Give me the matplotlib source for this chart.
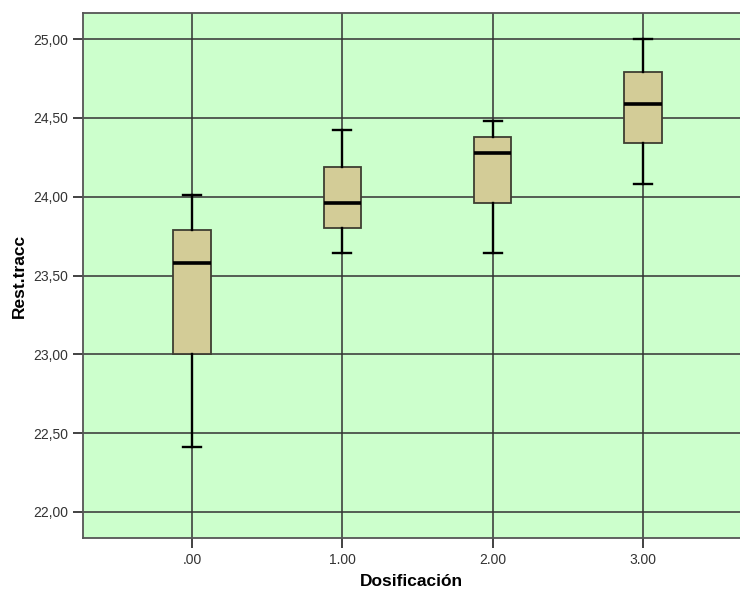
import matplotlib
matplotlib.use("Agg")
import matplotlib.pyplot as plt
from matplotlib.ticker import FuncFormatter

plt.rcParams["font.family"] = ["Liberation Sans", "DejaVu Sans"]

# Datos (boxplot SPSS)
dosis = [0.0, 1.0, 2.0, 3.0]
etiquetas_x = [".00", "1.00", "2.00", "3.00"]
bigote_inf = [22.41, 23.64, 23.64, 24.08]
q1 = [23.00, 23.80, 23.96, 24.34]
mediana = [23.58, 23.96, 24.28, 24.59]
q3 = [23.79, 24.19, 24.38, 24.79]
bigote_sup = [24.01, 24.42, 24.48, 25.00]
yticks = [22.0, 22.5, 23.0, 23.5, 24.0, 24.5, 25.0]

stats = []
for i in range(len(dosis)):
    stats.append({"whislo": bigote_inf[i], "q1": q1[i], "med": mediana[i],
                  "q3": q3[i], "whishi": bigote_sup[i], "fliers": []})

fig = plt.figure(figsize=(7.4, 5.9), dpi=100)
ax = fig.add_axes([83 / 740, 1 - 538 / 590, 657 / 740, 525 / 590])
ax.set_facecolor("#CCFFCC")

posiciones = list(range(len(dosis)))
ax.bxp(stats, positions=posiciones, widths=0.25, patch_artist=True,
       showfliers=False,
       boxprops=dict(facecolor="#D3CC97", edgecolor="#3e3e32", linewidth=1.3),
       medianprops=dict(color="black", linewidth=2.6),
       whiskerprops=dict(color="black", linewidth=1.7),
       capprops=dict(color="black", linewidth=1.7),
       capwidths=0.12, zorder=3)

ax.set_xlim(-0.725, 3.645)
ax.set_ylim(21.835, 25.165)
ax.set_xticks(posiciones)
ax.set_xticklabels(etiquetas_x)
ax.set_yticks(yticks)
ax.yaxis.set_major_formatter(FuncFormatter(lambda v, p: f"{v:.2f}".replace(".", ",")))

ax.grid(True, color="#333333", linewidth=1.3, alpha=0.85, zorder=1)
ax.set_axisbelow(True)
for s in ["left", "top", "bottom"]:
    ax.spines[s].set_color("#555555")
    ax.spines[s].set_linewidth(1.3)
ax.spines["right"].set_visible(False)

ax.tick_params(axis="both", length=7, width=1.3, color="#333333",
               labelsize=10, labelcolor="#333333")

ax.set_xlabel("Dosificación", fontsize=12.5, fontweight="bold", labelpad=5)
ax.set_ylabel("Rest.tracc", fontsize=12.5, fontweight="bold", labelpad=5)

fig.savefig("out.png", dpi=100)
